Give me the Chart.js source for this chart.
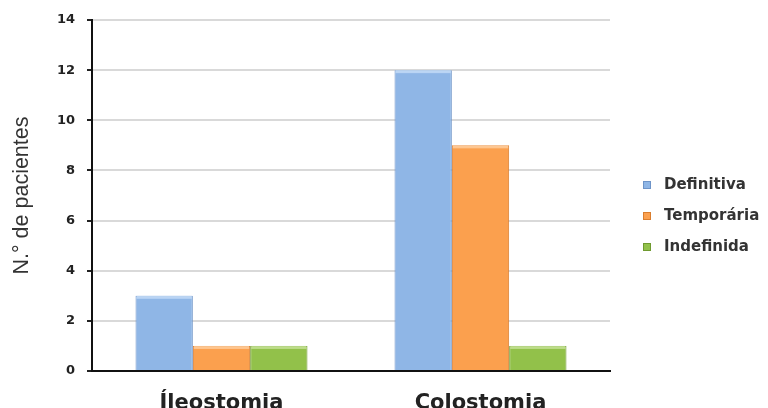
<!DOCTYPE html>
<html>
<head>
<meta charset="utf-8">
<script src="https://cdn.jsdelivr.net/npm/chart.js@4/dist/chart.umd.min.js"></script>
<style>
  html, body { margin: 0; padding: 0; background: #ffffff; }
  #wrap { width: 768px; height: 408px; position: relative; }
</style>
</head>
<body>
<div id="wrap"><canvas id="c" width="768" height="408"></canvas></div>
<script>
// Categories and series
const categories = ['Íleostomia', 'Colostomia'];
const seriesNames = ['Definitiva', 'Temporária', 'Indefinida'];
const definitiva = [3, 12];
const temporaria = [1, 9];
const indefinida = [1, 1];
const yTicks = [0, 2, 4, 6, 8, 10, 12, 14];

const palette = [
  { mid: '#8fb6e6', edge: '#6e94c8', top: '#c4dcf7' },
  { mid: '#fba04e', edge: '#d97d2e', top: '#ffd0a0' },
  { mid: '#92c14a', edge: '#6f9a30', top: '#c8e49a' }
];

function barFill(i) {
  return function (ctx) {
    const el = ctx.element;
    const c = palette[i];
    if (!el || el.width === undefined || !isFinite(el.x)) return c.mid;
    const left = el.x - el.width / 2, right = el.x + el.width / 2;
    const g = ctx.chart.ctx.createLinearGradient(left, 0, right, 0);
    g.addColorStop(0, c.edge);
    g.addColorStop(0.08, c.mid);
    g.addColorStop(0.92, c.mid);
    g.addColorStop(1, c.edge);
    return g;
  };
}

// Thin light band at the top of each bar
const topHighlight = {
  id: 'topHighlight',
  afterDatasetsDraw(chart) {
    const ctx = chart.ctx;
    chart.data.datasets.forEach((ds, i) => {
      chart.getDatasetMeta(i).data.forEach(bar => {
        const w = bar.width;
        ctx.save();
        ctx.fillStyle = palette[i].top;
        ctx.globalAlpha = 0.8;
        ctx.fillRect(bar.x - w / 2 + 1, bar.y, w - 2, 3);
        ctx.restore();
      });
    });
  }
};

// Legend drawn at the right side
const sideLegend = {
  id: 'sideLegend',
  afterDraw(chart) {
    const ctx = chart.ctx;
    const x0 = 643, ys = [185, 216, 247];
    ctx.save();
    ctx.font = 'bold 15px "DejaVu Sans"';
    ctx.textBaseline = 'middle';
    chart.data.datasets.forEach((ds, i) => {
      const y = ys[i];
      ctx.fillStyle = palette[i].mid;
      ctx.fillRect(x0, y - 4, 8, 8);
      ctx.strokeStyle = palette[i].edge;
      ctx.lineWidth = 1;
      ctx.strokeRect(x0 + 0.5, y - 3.5, 7, 7);
      ctx.fillStyle = '#333333';
      ctx.fillText(ds.label, x0 + 21, y);
    });
    ctx.restore();
  }
};

const seriesValues = [definitiva, temporaria, indefinida];

new Chart(document.getElementById('c'), {
  type: 'bar',
  data: {
    labels: categories,
    datasets: seriesNames.map((name, i) => ({
      label: name,
      data: seriesValues[i],
      backgroundColor: barFill(i),
      borderColor: palette[i].edge,
      borderWidth: 1,
      categoryPercentage: 0.664,
      barPercentage: 1.0
    }))
  },
  options: {
    responsive: false,
    animation: false,
    devicePixelRatio: 1,
    layout: { padding: { top: 20, right: 158, left: 0, bottom: 0 } },
    plugins: {
      legend: { display: false },
      tooltip: { enabled: false }
    },
    scales: {
      x: {
        grid: { display: false },
        border: { display: true, color: '#111111', width: 2 },
        ticks: {
          color: '#222222',
          font: { family: '"DejaVu Sans"', weight: 'bold', size: 21 },
          padding: 12
        },
        afterFit(scale) { scale.height = 37; }
      },
      y: {
        min: 0,
        max: 14,
        afterBuildTicks(scale) { scale.ticks = yTicks.map(v => ({ value: v })); },
        grid: {
          color: '#d9d9d9',
          lineWidth: 2,
          tickColor: '#222222',
          tickLength: 5,
          drawTicks: true
        },
        border: { display: true, color: '#111111', width: 2 },
        ticks: {
          color: '#222222',
          font: { family: '"DejaVu Sans"', weight: 'bold', size: 13 },
          padding: 12
        },
        title: {
          display: true,
          text: 'N.° de pacientes',
          color: '#333333',
          font: { family: '"Liberation Sans"', size: 21.5 },
          padding: { top: 9, bottom: 0 }
        },
        afterFit(scale) { scale.width = 92; }
      }
    }
  },
  plugins: [topHighlight, sideLegend]
});
</script>
</body>
</html>
